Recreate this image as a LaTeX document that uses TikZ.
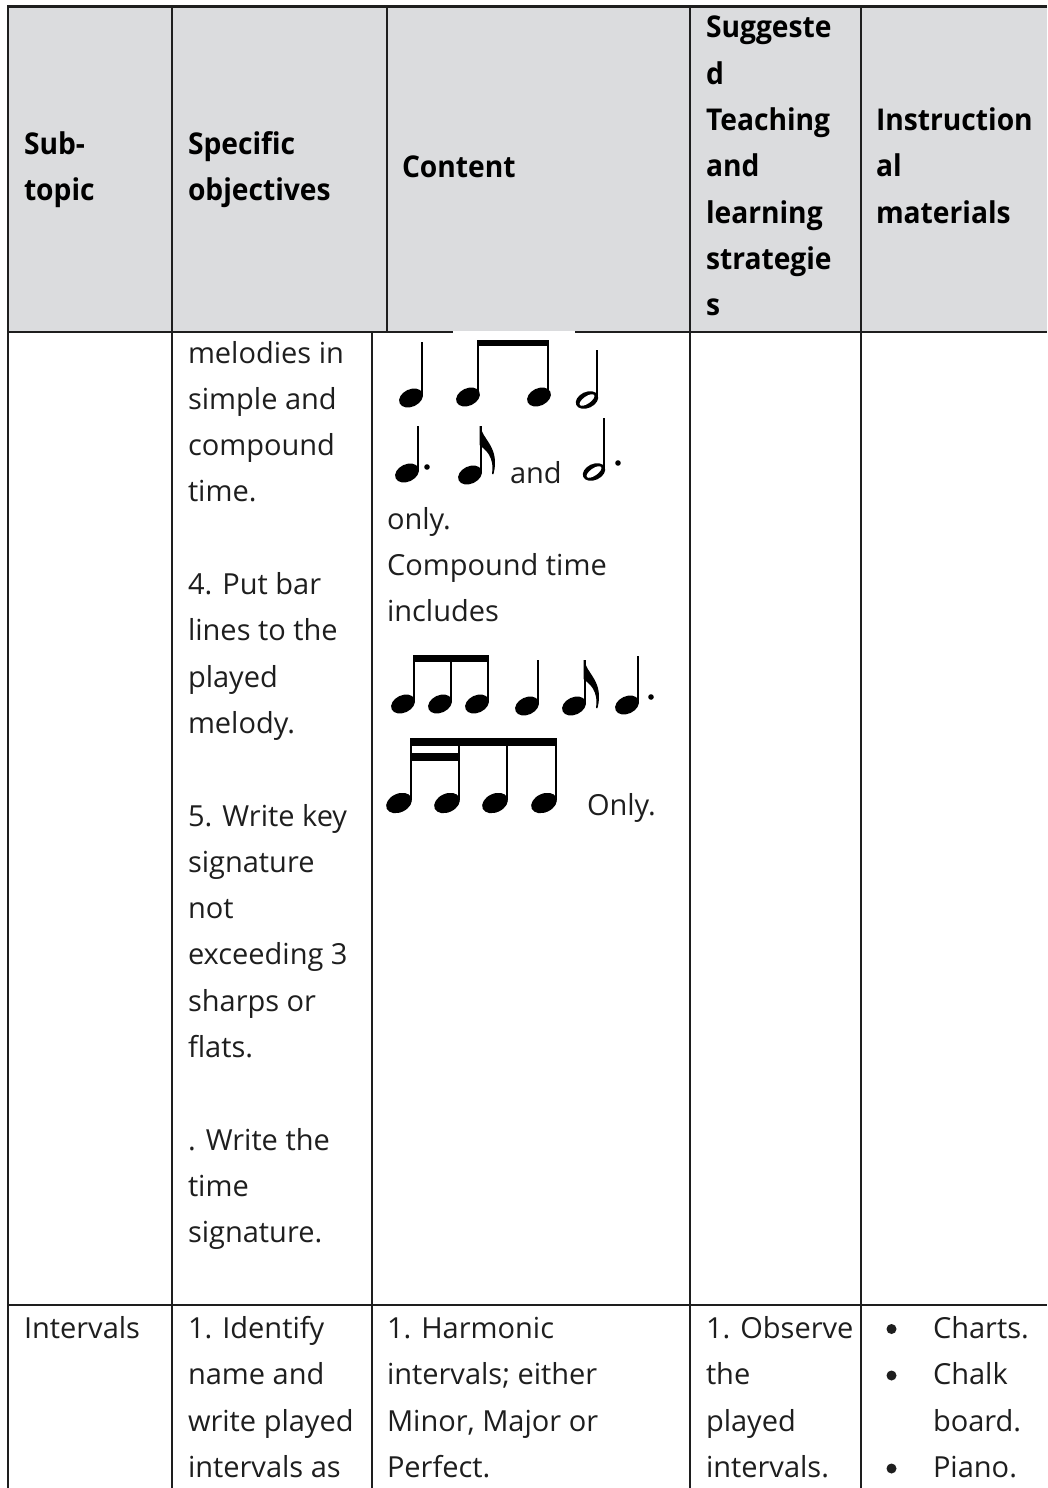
\documentclass[tikz,border=0pt]{standalone}
\usepackage{fontspec}
\setmainfont{Open Sans}
\definecolor{hdr}{RGB}{219,220,222}
\definecolor{ink}{RGB}{30,30,30}
\newcommand\hx[1]{\scalebox{0.94}[1]{#1}}
% filled note head: [angle]{x}{y}
\newcommand\nhead[3][25]{\fill[rotate around={#1:(#2,#3)}] (#2,#3) ellipse (12.5 and 8.7);}
\newcommand\bighead[2]{\fill[rotate around={25:(#1,#2)}] (#1,#2) ellipse (13.5 and 9.3);}
% open (half) note head
\newcommand\ohead[2]{\fill[rotate around={25:(#1,#2)}] (#1,#2) ellipse (11.8 and 8);
  \fill[white,rotate around={35:(#1,#2)}] (#1,#2) ellipse (8.7 and 3.6);}
% stem: x, top, bottom
\newcommand\nstem[3]{\draw[line width=2pt] (#1,#2) -- (#1,#3);}
% flag: stem x, top y
\newcommand\nflag[2]{\fill (#1,#2) .. controls (#1+1,#2+13) and (#1+20,#2+21) .. (#1+13,#2+48) -- (#1+11.5,#2+48) .. controls (#1+14,#2+30) and (#1+5,#2+24) .. (#1-1,#2+19) -- (#1-1,#2) -- cycle;}
\newcommand\ndot[2]{\fill (#1,#2) circle (2.8);}
\begin{document}
\begin{tikzpicture}[x=1pt,y=-1pt,
  rule/.style={draw=ink, line width=2.2pt},
  txt/.style={anchor=base west, inner sep=0pt, outer sep=0pt, text=ink, font=\fontsize{29}{46}\selectfont},
  hdt/.style={anchor=base west, inner sep=0pt, outer sep=0pt, text=black, font=\fontsize{30}{46}\selectfont\bfseries},
  bul/.style={fill=ink}
]
\useasboundingbox (0,0) rectangle (1047,1488);
\fill[white] (0,0) rectangle (1047,1488);
% ---------- table ----------
\fill[hdr] (8,6.5) rectangle (1047,332);
\draw[rule] (1047,6.5) -- (8,6.5) -- (8,1488);
\draw[rule] (172,6.5) -- (172,1488);
\draw[rule] (387,6.5) -- (387,332);
\draw[rule] (372,332) -- (372,1488);
\draw[rule] (690,6.5) -- (690,1488);
\draw[rule] (861,6.5) -- (861,1488);
\draw[rule] (8,332) -- (1047,332);
\draw[rule] (8,1305) -- (1047,1305);
\fill[white] (453,330.5) rectangle (575,334);
% ---------- header ----------
\node[hdt] (h1a) at (24,154) {\hx{Sub-}};
\node[hdt] (h1b) at (24,200) {\hx{topic}};
\node[hdt] (h2a) at (188,154) {\hx{Specific}};
\node[hdt] (h2b) at (188,200) {\hx{objectives}};
\node[hdt] (h3) at (402,177) {\hx{Content}};
\foreach \t [count=\i from 0] in {Suggeste,d,Teaching,and,learning,strategie,s}
  \node[hdt] (h4\i) at (706,{38+46.25*\i}) {\hx{\t}};
\foreach \t [count=\i from 0] in {Instruction,al,materials}
  \node[hdt] (h5\i) at (876,{130.5+46.25*\i}) {\hx{\t}};
% ---------- row 1 ----------
\foreach \t/\k in {melodies in/0, simple and/1, compound/2, time./3,
   4. Put bar/5, lines to the/6, played/7, melody./8,
   5. Write key/10, signature/11, not/12, exceeding 3/13, sharps or/14, flats./15,
   . Write the/17, time/18, signature./19}
  \node[txt] (ob\k) at (188,{363+46.3*\k}) {\t};
\node[txt] (cand) at (510,483) {and};
\node[txt] (conly) at (387,529.5) {only.};
\node[txt] (ccomp) at (387,575.5) {Compound time};
\node[txt] (cincl) at (387,621) {includes};
\node[txt] (conly2) at (587,815) {Only.};
% notes, line 1
\nhead{411}{398} \nstem{422}{342}{396}
\nhead{468}{397} \nstem{477.5}{340}{395}
\nhead{539}{397} \nstem{548}{340}{395}
\fill (476.5,339.5) rectangle (549,346);
\ohead{587}{400} \nstem{597}{350}{398}
% notes, line 2
\nhead{407}{473} \nstem{417.5}{426}{471} \ndot{427}{467}
\nhead{470}{475} \nstem{480.5}{426}{473} \nflag{480.5}{426}
\ohead{594}{472} \nstem{604}{418}{470} \ndot{618}{463}
% notes, line 3
\nhead{403}{704} \nstem{413.5}{655}{702}
\nhead{440}{704} \nstem{450.5}{655}{702}
\nhead{477}{704} \nstem{487.5}{655}{702}
\fill (412.5,655) rectangle (488.5,661.5);
\nhead{527}{706} \nstem{537.5}{660}{704}
\nhead{574}{706} \nstem{584.5}{660}{704} \nflag{584.5}{660}
\nhead{627}{705} \nstem{637.5}{656}{703} \ndot{651}{697}
% notes, line 4
\bighead{399}{803} \nstem{411}{738}{800}
\bighead{447}{803} \nstem{459}{738}{800}
\bighead{495}{803} \nstem{507}{738}{800}
\bighead{544}{803} \nstem{556}{738}{800}
\fill (410,738) rectangle (557,746);
\fill (410,753) rectangle (460,761);
% ---------- row 2 ----------
\node[txt] (r2a) at (24,1338) {Intervals};
\foreach \t [count=\i from 0] in {1. Identify, name and, write played, intervals as}
  \node[txt] (r2b\i) at (188,{1338+46.5*\i}) {\t};
\foreach \t [count=\i from 0] in {1. Harmonic, intervals; either, {Minor, Major or}, Perfect.}
  \node[txt] (r2c\i) at (387,{1338+46.5*\i}) {\t};
\foreach \t [count=\i from 0] in {1. Observe, the, played, intervals.}
  \node[txt] (r2d\i) at (706,{1338+46.5*\i}) {\t};
\foreach \t [count=\i from 0] in {Charts., Chalk, board., Piano.}
  \node[txt] (r2e\i) at (933,{1338+46.5*\i}) {\t};
\foreach \k in {0,1,3}
  \fill[bul] (891.5,{1329+46.5*\k}) circle (5);
\end{tikzpicture}
\end{document}
